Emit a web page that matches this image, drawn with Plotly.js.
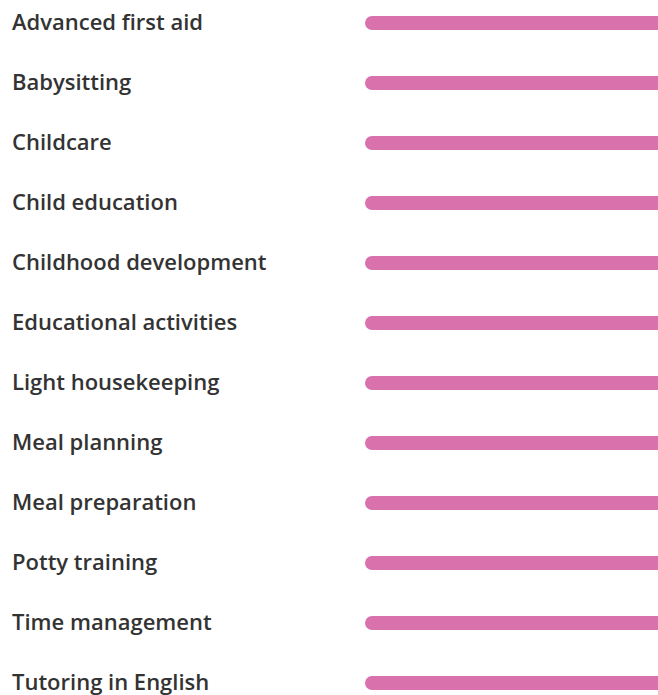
<!DOCTYPE html>
<html>
<head>
<meta charset="utf-8">
<script src="https://cdn.plot.ly/plotly-3.0.1.min.js"></script>
<style>html,body{margin:0;padding:0;background:#fff;}#chart{width:658px;height:695px;}</style>
</head>
<body>
<div id="chart"></div>
<script>
var categories = ["Advanced first aid","Babysitting","Childcare","Child education","Childhood development","Educational activities","Light housekeeping","Meal planning","Meal preparation","Potty training","Time management","Tutoring in English"];
var values = [100,100,100,100,100,100,100,100,100,100,100,100];

var trace = {
  type: 'bar', orientation: 'h',
  x: values, y: categories,
  width: 14/60,
  marker: {color: '#d971ac', cornerradius: 7, line: {width: 0}},
  hoverinfo: 'none'
};
var annotations = categories.map(function(c){
  return {text: c, xref: 'paper', yref: 'y', x: 10/658, y: c,
    xanchor: 'left', yanchor: 'middle', showarrow: false, yshift: 2,
    font: {family: 'Open Sans, sans-serif', size: 22, color: '#333333', weight: 600}};
});
var layout = {
  width: 658, height: 695,
  margin: {l: 0, r: 0, t: 0, b: 0},
  paper_bgcolor: '#fff', plot_bgcolor: '#fff',
  showlegend: false,
  xaxis: {range: [224.6, 0], visible: false, fixedrange: true},
  yaxis: {type: 'category', categoryorder: 'array', categoryarray: categories,
    range: [11.2, -0.3833], visible: false, fixedrange: true},
  annotations: annotations
};
Plotly.newPlot('chart', [trace], layout, {displayModeBar: false, staticPlot: true});
</script>
</body>
</html>
